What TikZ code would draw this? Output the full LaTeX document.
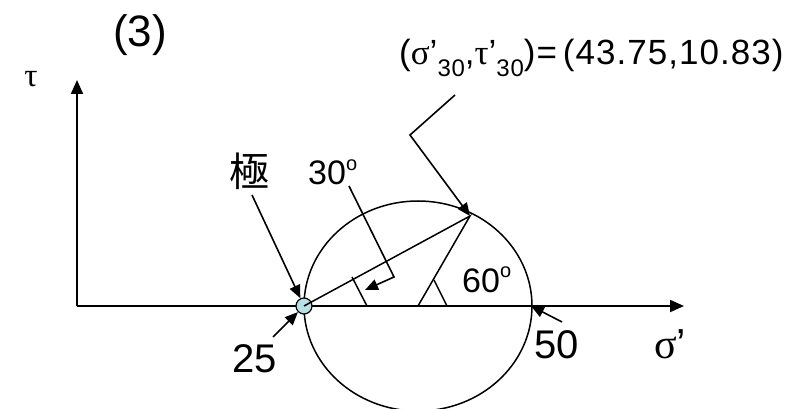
\documentclass[tikz,border=0pt]{standalone}
\usepackage{fontspec}
\setmainfont{Liberation Sans}
\newfontfamily\greekfont{Liberation Serif}
\newfontfamily\cjkfont{Noto Sans CJK JP}
\newfontfamily\spacedfont[LetterSpace=3]{Liberation Sans}
\usetikzlibrary{arrows.meta}
\definecolor{PoleBlue}{HTML}{B8E0E6}
\newcommand{\gr}[1]{{\greekfont #1}}
\newcommand{\lowsub}[1]{\raisebox{-0.32em}{\fontsize{24}{24}\selectfont #1}}
\newcommand{\degsup}[1]{#1\raisebox{0.42em}{\fontsize{20}{20}\selectfont o}}

\begin{document}
\begin{tikzpicture}[x=1pt, y=-1pt, every node/.style={inner sep=0pt, font=\fontsize{34}{34}\selectfont}]
    \tikzstyle{axis}=[line width=2pt, -{Triangle[length=14pt,width=12pt]}]
    \tikzstyle{pointer}=[line width=1.6pt, -{Triangle[length=13pt,width=11pt]}]
    \tikzstyle{thinline}=[line width=1.5pt]
    \useasboundingbox (0,0) rectangle (809,409);

    \coordinate (origin) at (77,306);
    \coordinate (tautip) at (77,80);
    \coordinate (sigtip) at (684,306);
    \coordinate (center) at (418,306);
    \coordinate (point30) at (470,216);
    \coordinate (right50) at (531,306);

    \draw[thinline] (center) ellipse (114 and 105);
    \draw[axis] (origin) -- (tautip);
    \draw[axis] (origin) -- (sigtip);

    \node[circle, draw, line width=1.2pt, fill=PoleBlue, minimum size=16pt] (pole) at (304,306) {};
    \draw[thinline] (pole.center) -- (point30) -- (center);

    \coordinate (tick30a) at (352,277);
    \coordinate (tick30b) at (367,306);
    \coordinate (tick60a) at (434,280);
    \coordinate (tick60b) at (447,306);
    \draw[thinline] (tick30a) -- (tick30b);
    \draw[thinline] (tick60a) -- (tick60b);

    \node[anchor=base] (title) at (140,47) {\fontsize{44}{44}\selectfont (3)};
    \node[anchor=base] (taulbl) at (31,87) {\fontsize{33}{33}\selectfont\gr{τ}};
    \node[anchor=base west] (siglbl) at (654,358) {\fontsize{42}{42}\selectfont\gr{σ}’};
    \node (kyoku) at (249,171) {\fontsize{40}{40}\selectfont\cjkfont 極};
    \node[anchor=base] (lbl25) at (255,372) {\fontsize{40}{40}\selectfont 25};
    \node[anchor=base] (lbl50) at (557,358) {\fontsize{40}{40}\selectfont 50};
    \node[anchor=base west] (ang30) at (308,185) {\degsup{30}};
    \node[anchor=base west] (ang60) at (462,292) {\degsup{60}};
    \node[anchor=base west] (coordlbl) at (399,65) {\fontsize{35}{35}\selectfont\spacedfont (\gr{σ}’\lowsub{30},\gr{τ}’\lowsub{30})=\,(43.75,10.83)};

    \coordinate (kyokufoot) at (252,195);
    \coordinate (foot25) at (273,337);
    \coordinate (foot50) at (562,322);
    \coordinate (bend30a) at (349,186);
    \coordinate (bend30b) at (394,277);
    \coordinate (tip30) at (365,290);
    \coordinate (bendpta) at (455,95);
    \coordinate (bendptb) at (410,135);

    \draw[pointer] (kyokufoot) -- (pole);
    \draw[pointer] (foot25) -- (pole);
    \draw[pointer] (foot50) -- (right50);
    \draw[pointer] (bend30a) -- (bend30b) -- (tip30);
    \draw[pointer] (bendpta) -- (bendptb) -- (point30);

  \end{tikzpicture}
\end{document}
